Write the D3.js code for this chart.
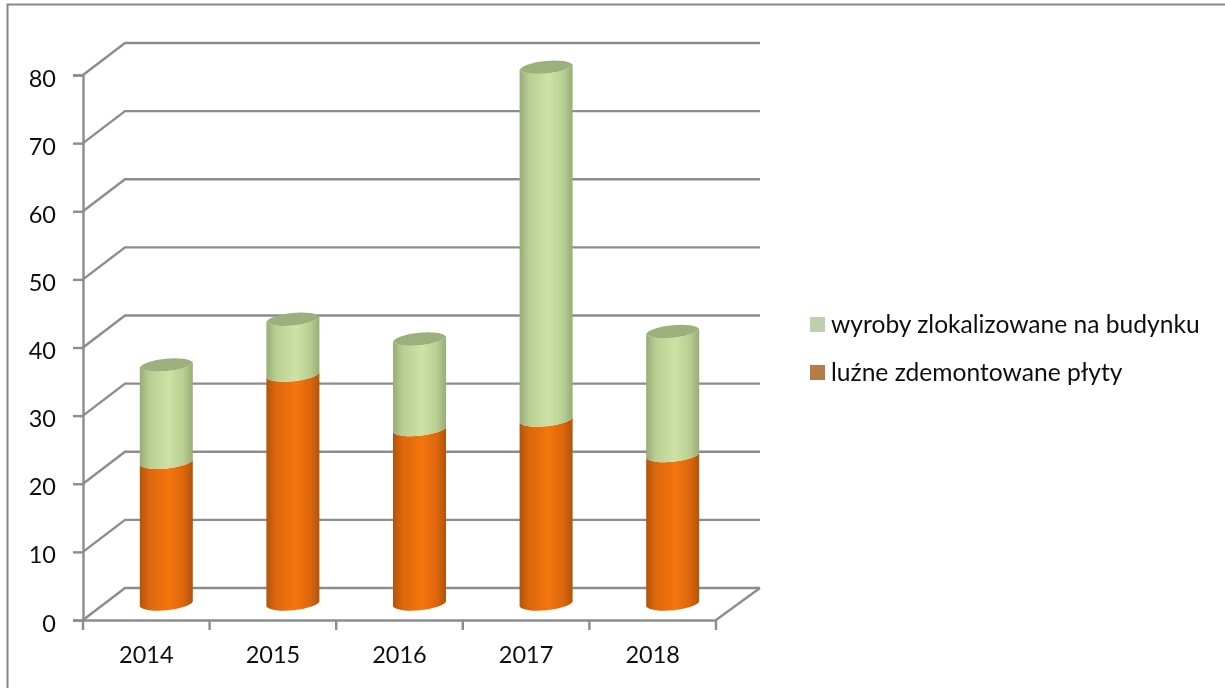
<!DOCTYPE html>
<html>
<head>
<meta charset="utf-8">
<title>Wyroby</title>
<script src="https://cdn.jsdelivr.net/npm/d3@7/dist/d3.min.js"></script>
<style>
  html, body { margin: 0; padding: 0; background: #fff; }
  svg { display: block; }
  text { font-family: Lato, "Open Sans", sans-serif; fill: #111; }
</style>
</head>
<body>
<div id="chart"></div>
<script>
var years = ["2014", "2015", "2016", "2017", "2018"];
var luzne = [20.8, 33.6, 25.6, 27, 21.8];
var wyroby = [14.3, 8.2, 13.3, 51.8, 18.2];
var yTicks = [0, 10, 20, 30, 40, 50, 60, 70, 80];
var seriesNames = ["wyroby zlokalizowane na budynku", "luźne zdemontowane płyty"];

var svg = d3.select("#chart").append("svg").attr("width", 1225).attr("height", 688);

var x = d3.scaleBand().domain(years).range([83, 716]);
var y = d3.scaleLinear().domain([0, 80]).range([620, 75]);

// the 3d wall sits up and to the right of the axes
var depthX = 42, depthY = -32;
var barW = 53, tilt = 2.6, ry = 7.5;

var defs = svg.append("defs");
function cylGrad(id, edge, side, mid) {
  var g = defs.append("linearGradient").attr("id", id);
  g.append("stop").attr("offset", "0%").attr("stop-color", edge);
  g.append("stop").attr("offset", "18%").attr("stop-color", side);
  g.append("stop").attr("offset", "55%").attr("stop-color", mid);
  g.append("stop").attr("offset", "82%").attr("stop-color", side);
  g.append("stop").attr("offset", "100%").attr("stop-color", edge);
}
cylGrad("orange", "#b25407", "#dd6709", "#f4750b");
cylGrad("green", "#98ac76", "#b9cf92", "#cde2a4");

var soft = defs.append("filter").attr("id", "soft");
soft.append("feGaussianBlur").attr("stdDeviation", 0.45);

var gray = "#8c8c8c";
var root = svg.append("g").attr("filter", "url(#soft)");

// frame, only the top and left edges show in the picture
root.append("path")
  .attr("d", "M7.5,688V4.5H1225")
  .attr("fill", "none").attr("stroke", "#858585").attr("stroke-width", 2);

// gridlines + side wall
root.selectAll(".grid").data(yTicks).enter().append("path")
  .attr("class", "grid")
  .attr("fill", "none").attr("stroke", gray).attr("stroke-width", 2.4)
  .attr("d", function (d) {
    return "M" + 83 + "," + y(d) + "L" + (83 + depthX) + "," + (y(d) + depthY) + "H" + (716 + depthX + 2);
  });

// floor edge at the right
root.append("line")
  .attr("x1", 716).attr("y1", 620).attr("x2", 716 + depthX + 2).attr("y2", 620 + depthY)
  .attr("stroke", gray).attr("stroke-width", 2.4);

// axes
var axisY = root.append("g").attr("transform", "translate(83,0)")
  .call(d3.axisLeft(y).tickValues(yTicks).tickSize(10).tickPadding(17));
var axisX = root.append("g").attr("transform", "translate(0,620)")
  .call(d3.axisBottom(x).tickSize(0).tickPadding(26));
root.selectAll(".tickX").data(d3.range(years.length + 1)).enter().append("line")
  .attr("class", "tickX")
  .attr("x1", function (i) { return 83 + i * x.step(); })
  .attr("x2", function (i) { return 83 + i * x.step(); })
  .attr("y1", 620).attr("y2", 630)
  .attr("stroke", gray).attr("stroke-width", 2.4);
[axisY, axisX].forEach(function (a) {
  a.selectAll("path,line").attr("stroke", gray).attr("stroke-width", 2.4);
  a.selectAll("text").attr("font-size", 23.5).attr("fill", "#111").style("font-family", "Lato, sans-serif");
});
axisY.selectAll("text").attr("dy", "0.47em");

// a stacked cylinder segment, from value v0 to v1
function segment(cx, v0, v1) {
  var l = cx - barW / 2, r = cx + barW / 2;
  var y0 = y(v0) + depthY / 2, y1 = y(v1) + depthY / 2;
  var rx = barW / 2 + 0.5;
  return "M" + l + "," + (y1 + tilt) +
    "A" + rx + "," + ry + " -5.5 0 0 " + r + "," + (y1 - tilt) +
    "V" + (y0 - tilt) +
    "A" + rx + "," + ry + " -5.5 0 1 " + l + "," + (y0 + tilt) + "Z";
}
function cap(cx, v) {
  var c = y(v) + depthY / 2;
  var rx = barW / 2 + 0.5;
  return "M" + (cx - barW / 2) + "," + (c + tilt) +
    "A" + rx + "," + ry + " -5.5 0 1 " + (cx + barW / 2) + "," + (c - tilt) +
    "A" + rx + "," + ry + " -5.5 0 1 " + (cx - barW / 2) + "," + (c + tilt) + "Z";
}
function cx(d) { return x(d) + x.bandwidth() / 2 + depthX / 2 - 1; }

var bars = root.append("g");
years.forEach(function (yr, i) {
  var total = luzne[i] + wyroby[i];
  bars.append("path").attr("d", segment(cx(yr), 0, luzne[i])).attr("fill", "url(#orange)");
  bars.append("path").attr("d", segment(cx(yr), luzne[i], total)).attr("fill", "url(#green)");
  bars.append("path").attr("d", cap(cx(yr), total)).attr("fill", "#9bb07a");
});

// legend
var legendY = d3.scalePoint().domain(seriesNames).range([324.5, 372.5]);
var legendCol = ["#bcd0ae", "#b47c48"];
var leg = root.selectAll(".leg").data(seriesNames).enter().append("g")
  .attr("class", "leg")
  .attr("transform", function (d) { return "translate(810," + legendY(d) + ")"; });
leg.append("rect")
  .attr("x", 0).attr("y", -7.5).attr("width", 15).attr("height", 15)
  .attr("fill", function (d, i) { return legendCol[i]; });
leg.append("text")
  .attr("x", 21).attr("y", 8)
  .attr("font-size", 24.6)
  .text(function (d) { return d; });
</script>
</body>
</html>
